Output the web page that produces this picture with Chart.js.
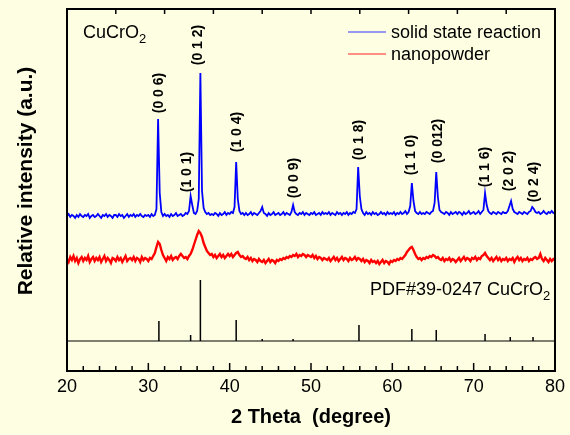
<!DOCTYPE html>
<html>
<head>
<meta charset="utf-8">
<script src="https://cdn.jsdelivr.net/npm/chart.js@4.4.1/dist/chart.umd.min.js"></script>
<style>
  html, body { margin: 0; padding: 0; background: #fefee2; }
</style>
</head>
<body>
<canvas id="xrd" width="570" height="435"></canvas>
<script>
// 2 theta sampling grid: 20 to 80 deg, every 0.2 deg
const twoTheta = [];
for (let i = 0; i <= 300; i++) twoTheta.push(+(20 + i * 0.2).toFixed(1));

// intensities (arbitrary units), one value per grid step
const solidState = [
  155,157,154,156,155,153,156,154,157,155,
  154,156,155,157,153,155,156,154,155,157,
  155,153,156,155,157,154,156,155,153,156,
  156,154,157,155,156,153,155,157,154,156,
  155,157,154,156,155,157,155,154,156,155,
  156,154,157,155,156,162,252,178,159,155,
  157,155,156,154,157,155,156,158,155,156,
  157,155,156,158,157,160,175,166,158,157,
  160,172,298,180,163,159,157,158,156,157,
  156,158,157,155,158,156,157,159,156,158,
  157,159,158,164,209,172,160,157,158,156,
  158,156,157,159,156,158,157,156,158,160,
  164,158,157,155,158,156,157,159,156,157,
  158,156,157,159,156,158,157,156,159,166,
  159,157,156,158,157,159,156,158,157,156,
  158,157,159,156,157,158,156,159,157,158,
  157,159,156,158,157,156,159,157,158,156,
  158,157,159,156,158,157,159,158,162,204,
  175,162,158,156,159,157,158,156,159,157,
  158,156,157,159,157,158,156,159,157,158,
  157,159,156,158,157,159,157,158,160,157,
  159,165,188,170,160,158,157,159,157,158,
  157,159,158,157,159,160,168,199,174,161,
  159,158,157,159,158,156,159,157,158,159,
  157,159,158,156,159,157,158,160,157,158,
  159,157,158,160,157,159,161,178,166,160,
  158,157,159,158,157,159,158,157,159,158,
  158,160,165,170,162,159,158,157,159,158,
  157,159,158,157,159,160,164,162,159,158,
  159,157,158,160,158,157,159,158,160,158,
  159
];

const nanopowder = [
  112,109,114,111,115,110,113,108,112,114,
  110,113,111,115,109,112,114,110,113,111,
  114,109,112,115,110,113,111,108,113,112,
  110,114,111,113,109,112,115,110,112,113,
  111,114,110,113,112,109,114,111,113,112,
  110,113,112,115,118,124,129,127,121,116,
  113,110,114,112,115,111,113,114,112,115,
  117,115,113,114,112,115,117,121,126,131,
  136,140,138,134,128,124,120,118,116,117,
  114,116,113,115,117,114,116,113,115,117,
  115,117,114,116,118,119,116,114,115,113,
  112,114,111,113,110,112,111,109,112,110,
  109,111,108,110,112,109,111,110,108,111,
  110,112,111,113,112,114,113,115,114,116,
  115,117,114,116,115,117,116,114,116,115,
  114,116,113,115,112,114,113,111,113,112,
  111,113,110,112,114,111,113,110,112,114,
  111,113,112,110,113,111,112,114,111,113,
  112,110,112,109,111,110,108,111,109,110,
  108,110,107,109,111,108,110,109,107,110,
  109,111,110,112,111,113,112,114,116,119,
  121,123,124,121,117,114,112,113,111,113,
  112,114,113,115,114,116,115,113,114,112,
  111,113,110,112,111,113,110,112,111,109,
  111,113,110,112,114,111,113,112,110,113,
  112,114,111,113,112,115,116,118,115,113,
  111,113,110,112,114,111,113,110,112,111,
  113,110,112,111,113,109,112,114,111,113,
  110,112,111,113,110,112,111,113,114,112,
  113,117,112,110,113,111,109,112,110,112,
  111
];

// PDF#39-0247 reference lines
const pdfPos = [31.3, 35.2, 36.4, 40.8, 44.0, 47.8, 55.9, 62.4, 65.4, 71.4, 74.5, 77.3];
const pdfHeight = [50, 36, 91, 51, 32, 32, 46, 42, 41, 37, 34, 34];
const pdfBase = 30;

// Miller index labels
const hklText = ['(0 0 6)', '(1 0 1)', '(0 1 2)', '(1 0 4)', '(0 0 9)', '(0 1 8)', '(1 1 0)', '(0 012)', '(1 1 6)', '(2 0 2)', '(0 2 4)'];
const hklPos = [31.37, 34.79, 36.13, 40.9, 47.98, 55.93, 62.28, 65.58, 71.45, 74.38, 77.44];
const hklHeight = [278, 199, 326, 239, 193, 231, 216, 230, 204, 200, 189];

const xTicks = [20, 30, 40, 50, 60, 70, 80];

const FONT = "'Liberation Sans', Arial, sans-serif";

const sticks = [];
pdfPos.forEach((p, i) => {
  sticks.push({x: p, y: pdfBase}, {x: p, y: pdfHeight[i]}, {x: p, y: null});
});

function drawFormula(ctx, main, sub, x, y, size) {
  ctx.font = size + 'px ' + FONT;
  ctx.fillText(main, x, y);
  const w = ctx.measureText(main).width;
  ctx.font = Math.round(size * 0.7) + 'px ' + FONT;
  ctx.fillText(sub, x + w, y + size * 0.28);
}

const decor = {
  id: 'decor',
  afterDraw(chart) {
    const {ctx, chartArea: a} = chart;
    const x = chart.scales.x, y = chart.scales.y;
    ctx.save();
    ctx.strokeStyle = '#000';
    ctx.fillStyle = '#000';

    // frame
    ctx.lineWidth = 2;
    ctx.strokeRect(a.left, a.top, a.right - a.left, a.bottom - a.top);

    // inward ticks, bottom and top
    ctx.lineWidth = 1.5;
    for (let v = 20; v <= 80; v += 2) {
      const px = x.getPixelForValue(v);
      const len = v % 10 === 0 ? 8 : 5;
      ctx.beginPath();
      ctx.moveTo(px, a.bottom);
      ctx.lineTo(px, a.bottom - len);
      ctx.stroke();
    }
    for (let v = 26; v < 80; v += 6) {
      const px = x.getPixelForValue(v);
      ctx.beginPath();
      ctx.moveTo(px, a.top);
      ctx.lineTo(px, a.top + 5);
      ctx.stroke();
    }

    // hkl labels
    ctx.font = 'bold 14px ' + FONT;
    ctx.textAlign = 'center';
    ctx.textBaseline = 'middle';
    hklText.forEach((t, i) => {
      ctx.save();
      ctx.translate(x.getPixelForValue(hklPos[i]), y.getPixelForValue(hklHeight[i]));
      ctx.rotate(-Math.PI / 2);
      ctx.fillText(t, 0, 0);
      ctx.restore();
    });

    // sample name and reference card
    ctx.textAlign = 'left';
    ctx.textBaseline = 'alphabetic';
    drawFormula(ctx, 'CuCrO', '2', a.left + 16, a.top + 29, 18);
    drawFormula(ctx, 'PDF#39-0247 CuCrO', '2', a.left + 303, a.top + 286, 18);

    // legend
    const items = [['solid state reaction', '#3333ff'], ['nanopowder', '#ff2222']];
    ctx.font = '18px ' + FONT;
    ctx.textBaseline = 'middle';
    items.forEach((it, i) => {
      const ly = a.top + 23 + i * 22;
      ctx.strokeStyle = it[1];
      ctx.lineWidth = 1.2;
      ctx.beginPath();
      ctx.moveTo(a.left + 281, ly);
      ctx.lineTo(a.left + 319, ly);
      ctx.stroke();
      ctx.fillText(it[0], a.left + 324, ly + 1);
    });

    // axis titles
    ctx.font = 'bold 20px ' + FONT;
    ctx.textAlign = 'center';
    ctx.fillText('2 Theta  (degree)', (a.left + a.right) / 2, 417);
    ctx.font = 'bold 21px ' + FONT;
    ctx.save();
    ctx.translate(26, (a.top + a.bottom) / 2 - 9);
    ctx.rotate(-Math.PI / 2);
    ctx.fillText('Relative intensity (a.u.)', 0, 0);
    ctx.restore();

    ctx.restore();
  }
};

new Chart(document.getElementById('xrd').getContext('2d'), {
  type: 'line',
  data: {
    datasets: [
      {
        label: 'solid state reaction',
        data: twoTheta.map((t, i) => ({x: t, y: solidState[i]})),
        borderColor: '#0000ff',
        borderWidth: 1.8
      },
      {
        label: 'nanopowder',
        data: twoTheta.map((t, i) => ({x: t, y: nanopowder[i]})),
        borderColor: '#ff0000',
        borderWidth: 2.4
      },
      {
        label: 'PDF#39-0247',
        data: sticks,
        borderColor: '#000',
        borderWidth: 1.5,
        spanGaps: false
      },
      {
        label: 'PDF baseline',
        data: [{x: 20, y: pdfBase}, {x: 80, y: pdfBase}],
        borderColor: '#000',
        borderWidth: 1
      }
    ]
  },
  options: {
    responsive: false,
    animation: false,
    layout: { padding: { top: 9, right: 12, left: 0, bottom: 0 } },
    elements: { point: { radius: 0 }, line: { tension: 0 } },
    plugins: { legend: { display: false }, tooltip: { enabled: false } },
    scales: {
      x: {
        type: 'linear',
        min: 20,
        max: 80,
        afterFit: s => { s.height = 64; },
        afterBuildTicks: s => { s.ticks = xTicks.map(v => ({value: v})); },
        ticks: { color: '#000', font: { family: FONT, size: 18 }, padding: 5, maxRotation: 0 },
        grid: { display: false, drawTicks: false },
        border: { display: false }
      },
      y: {
        min: 0,
        max: 362,
        afterFit: s => { s.width = 67; },
        ticks: { display: false },
        grid: { display: false, drawTicks: false },
        border: { display: false }
      }
    }
  },
  plugins: [decor]
});
</script>
</body>
</html>
